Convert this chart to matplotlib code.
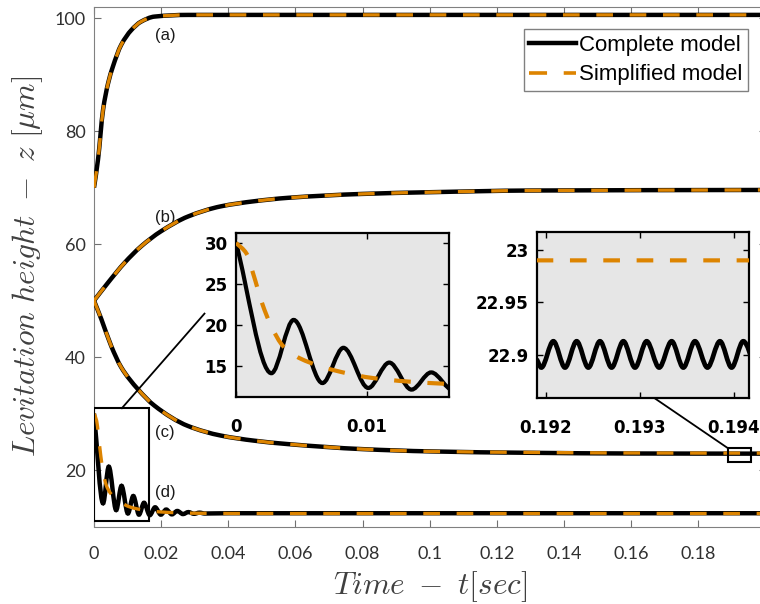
import numpy as np
import matplotlib
matplotlib.use('Agg')
import matplotlib.pyplot as plt
from matplotlib.path import Path
from matplotlib.patches import PathPatch, Rectangle
from matplotlib.lines import Line2D

# time axis [sec] and levitation height [um] for the four cases
t_a = [0, 0.0012, 0.0027, 0.0042, 0.0056, 0.0081, 0.0111, 0.014, 0.018, 0.028, 0.05, 0.2]
z_a = [70.0, 75.0, 83.8, 88.5, 91.4, 95.3, 97.9, 99.4, 100.3, 100.6, 100.6, 100.6]

t_b = [0, 0.0042, 0.0091, 0.014, 0.02, 0.028, 0.0378, 0.0477, 0.0576, 0.08, 0.1, 0.13, 0.2]
z_b = [50.0, 53.2, 56.7, 59.6, 62.3, 64.9, 66.7, 67.6, 68.2, 68.9, 69.2, 69.5, 69.6]

t_c = [0, 0.0022, 0.0051, 0.0081, 0.0131, 0.018, 0.028, 0.0378, 0.0477, 0.0576, 0.08, 0.1, 0.13, 0.16, 0.2]
z_c_full = [50.0, 46.7, 42.0, 38.2, 34.3, 31.4, 27.8, 26.1, 25.2, 24.6, 23.7, 23.3, 23.05, 22.93, 22.9]
z_c_simp = [50.0, 46.7, 42.0, 38.2, 34.3, 31.4, 27.8, 26.1, 25.2, 24.6, 23.7, 23.3, 23.12, 23.02, 22.99]

# case (d): complete model oscillates (peaks / troughs), simplified decays
t_d_full = [0, 0.0027, 0.0044, 0.0066, 0.0082, 0.0101, 0.0117, 0.0134, 0.0149, 0.0166,
            0.0182, 0.0199, 0.0215, 0.0232, 0.0248, 0.0265, 0.0281, 0.0298, 0.0314, 0.033,
            0.04, 0.2]
z_d_full = [30.0, 14.1, 20.6, 12.9, 17.2, 12.3, 15.4, 12.1, 14.2, 12.0,
            13.4, 12.1, 13.0, 12.15, 12.75, 12.2, 12.55, 12.25, 12.45, 12.3,
            12.35, 12.35]
t_d_simp = [0, 0.0008, 0.0013, 0.002, 0.0027, 0.0036, 0.0049, 0.0079, 0.0105, 0.013,
            0.0161, 0.022, 0.03, 0.05, 0.2]
z_d_simp = [30.0, 28.7, 26.3, 22.6, 19.8, 17.4, 15.9, 14.3, 13.5, 13.1,
            12.8, 12.5, 12.35, 12.3, 12.3]

# case (c) close to steady state
t_ss_full = [0.19190, 0.19195, 0.192078, 0.192202, 0.192326, 0.19245, 0.192574, 0.192698,
             0.192823, 0.192947, 0.193071, 0.193204, 0.193337, 0.193461, 0.193585,
             0.193718, 0.193851, 0.193975, 0.194099, 0.194225]
z_ss_full = [22.896, 22.888, 22.913, 22.888, 22.913, 22.888, 22.913, 22.888,
             22.913, 22.888, 22.913, 22.888, 22.913, 22.888, 22.913,
             22.888, 22.913, 22.888, 22.913, 22.888]
t_ss_simp = [0.1919, 0.1943]
z_ss_simp = [22.99, 22.99]

x_ticks = [0, 0.02, 0.04, 0.06, 0.08, 0.1, 0.12, 0.14, 0.16, 0.18]
x_ticklabels = ['0', '0.02', '0.04', '0.06', '0.08', '0.1', '0.12', '0.14', '0.16', '0.18']
y_ticks = [20, 40, 60, 80, 100]

ORANGE = '#dd8400'
plt.rcParams['lines.scale_dashes'] = False
plt.rcParams['mathtext.fontset'] = 'cm'


def smooth_path(t, z):
    # monotone cubic through the points, written as bezier segments
    t = np.asarray(t, float)
    z = np.asarray(z, float)
    h = np.diff(t)
    d = np.diff(z) / h
    m = np.zeros_like(z)
    m[0], m[-1] = d[0], d[-1]
    for i in range(1, len(z) - 1):
        if d[i - 1] * d[i] > 0:
            w1 = 2 * h[i] + h[i - 1]
            w2 = h[i] + 2 * h[i - 1]
            m[i] = (w1 + w2) / (w1 / d[i - 1] + w2 / d[i])
    verts = [(t[0], z[0])]
    codes = [Path.MOVETO]
    for i in range(len(h)):
        verts += [(t[i] + h[i] / 3, z[i] + m[i] * h[i] / 3),
                  (t[i + 1] - h[i] / 3, z[i + 1] - m[i + 1] * h[i] / 3),
                  (t[i + 1], z[i + 1])]
        codes += [Path.CURVE4] * 3
    return Path(verts, codes)


def draw(ax, t, z, full=True, lw=None):
    if full:
        p = PathPatch(smooth_path(t, z), fill=False, edgecolor='black',
                      lw=lw or 3.2, zorder=3)
    else:
        p = PathPatch(smooth_path(t, z), fill=False, edgecolor=ORANGE,
                      lw=lw or 2.4, linestyle=(0, (12, 12)), capstyle='butt', zorder=4)
    ax.add_patch(p)


def style_inset(ax):
    ax.set_facecolor('#e6e6e6')
    for s in ax.spines.values():
        s.set_color('black')
        s.set_linewidth(1.6)
    ax.tick_params(direction='in', length=4, width=1, color='black',
                   top=True, right=True, labelsize=12, pad=6)
    ax.tick_params(axis='x', pad=15)
    for lab in ax.get_xticklabels() + ax.get_yticklabels():
        lab.set_fontfamily('DejaVu Sans')
        lab.set_fontweight('bold')


fig = plt.figure(figsize=(7.6, 6.04), dpi=100)
ax = fig.add_axes([94 / 760, 1 - 526.5 / 604, 671.6 / 760, 519.5 / 604])

for t, z in [(t_a, z_a), (t_b, z_b)]:
    draw(ax, t, z, True)
    draw(ax, t, z, False)
draw(ax, t_c, z_c_full, True)
draw(ax, t_c, z_c_simp, False)
draw(ax, t_d_full, z_d_full, True)
draw(ax, t_d_simp, z_d_simp, False)

ax.set_xlim(0, 0.2)
ax.set_ylim(10, 102)
ax.set_xticks(x_ticks)
ax.set_xticklabels(x_ticklabels)
ax.set_yticks(y_ticks)
ax.tick_params(direction='in', length=5, width=0.8, color='#707070',
               top=True, right=True, labelsize=13, labelcolor='#303030')
ax.tick_params(axis='x', pad=14)
ax.tick_params(axis='y', pad=6)
for lab in ax.get_xticklabels() + ax.get_yticklabels():
    lab.set_fontfamily('Lato')
for s in ax.spines.values():
    s.set_color('#808080')
    s.set_linewidth(0.8)

ax.set_xlabel(r'$Time\ -\ t[sec]$', fontsize=22.5, color='#404040')
ax.set_ylabel(r'$Levitation\ height\ -\ z\ [\mu m]$', fontsize=22.5, color='#404040')
ax.xaxis.set_label_coords(0.5, -0.083)
ax.yaxis.set_label_coords(-0.073, 0.5)

for txt, zpos in [('(a)', 96.9), ('(b)', 64.8), ('(c)', 26.7), ('(d)', 16.1)]:
    ax.text(0.0211, zpos, txt, ha='center', va='center', fontsize=12,
            family='Liberation Sans', color='#1a1a1a')

# zoom boxes and connectors
ax.add_patch(Rectangle((0, 11.0), 0.0163, 19.95, fill=False, ec='black', lw=1.5, zorder=5))
ax.add_patch(Rectangle((0.1887, 21.4), 0.0071, 2.5, fill=False, ec='black', lw=1.5, zorder=5))
ax.plot([0.0083, 0.0329], [30.95, 47.7], color='black', lw=1.3, zorder=5)
ax.plot([0.1665, 0.1887], [32.9, 23.9], color='black', lw=1.3, zorder=5)

handles = [Line2D([], [], color='black', lw=3.2),
           Line2D([], [], color=ORANGE, lw=2.6, linestyle=(0, (13, 12)))]
leg = ax.legend(handles, ['Complete model', 'Simplified model'], loc='upper right',
                bbox_to_anchor=(748 / 760, 1 - 29 / 604), bbox_transform=fig.transFigure,
                prop={'family': 'Liberation Sans', 'size': 16}, fancybox=False,
                framealpha=1, edgecolor='#808080', handlelength=2.1,
                handletextpad=0.15, borderpad=0.25, labelspacing=0.4, borderaxespad=0)
leg.get_frame().set_linewidth(1.0)

# inset: beginning of case (d)
ax1 = fig.add_axes([236 / 760, 1 - 397 / 604, 213 / 760, 164 / 604])
draw(ax1, t_d_full, z_d_full, True, lw=3.0)
draw(ax1, t_d_simp, z_d_simp, False, lw=3.0)
ax1.set_xlim(0, 0.01626)
ax1.set_ylim(11.2, 31.2)
ax1.set_xticks([0, 0.01])
ax1.set_xticklabels(['0', '0.01'])
ax1.set_yticks([15, 20, 25, 30])
ax1.set_yticklabels(['15', '20', '25', '30'])
style_inset(ax1)

# inset: case (c) near t = 0.193
ax2 = fig.add_axes([537 / 760, 1 - 398 / 604, 212 / 760, 166 / 604])
draw(ax2, t_ss_full, z_ss_full, True, lw=3.4)
draw(ax2, t_ss_simp, z_ss_simp, False, lw=3.0)
ax2.set_xlim(0.191904, 0.19416)
ax2.set_ylim(22.859, 23.017)
ax2.set_xticks([0.192, 0.193, 0.194])
ax2.set_xticklabels(['0.192', '0.193', '0.194'])
ax2.set_yticks([22.9, 22.95, 23])
ax2.set_yticklabels(['22.9', '22.95', '23'])
style_inset(ax2)

fig.savefig('out.png', dpi=100)
